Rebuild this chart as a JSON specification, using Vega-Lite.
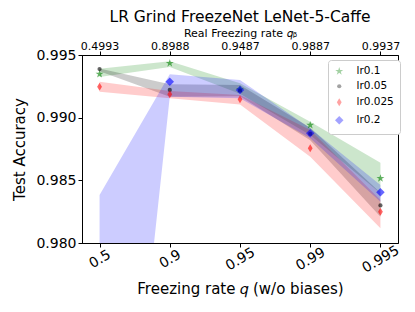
{
  "$schema": "https://vega.github.io/schema/vega-lite/v6.json",
  "width": 316,
  "height": 188,
  "autosize": "none",
  "padding": {"left": 82, "top": 55, "right": 17, "bottom": 69},
  "background": "white",
  "title": {"text": "LR Grind FreezeNet LeNet-5-Caffe", "fontSize": 15.5, "font": "DejaVu Sans", "fontWeight": "normal", "color": "black", "anchor": "middle", "offset": 2},
  "config": {
    "view": {"stroke": "black", "strokeWidth": 1},
    "font": "DejaVu Sans",
    "axis": {"grid": false, "domainColor": "black", "tickColor": "black", "labelColor": "black", "titleColor": "black", "titleFontWeight": "normal", "labelFont": "DejaVu Sans", "titleFont": "DejaVu Sans"}
  },
  "data": {"values": [
    {"x": 0, "series": "lr0.1", "mean": 0.99348, "lo": 0.99325, "hi": 0.99390},
    {"x": 1, "series": "lr0.1", "mean": 0.99434, "lo": 0.99405, "hi": 0.99450},
    {"x": 2, "series": "lr0.1", "mean": 0.99225, "lo": 0.99190, "hi": 0.99274},
    {"x": 3, "series": "lr0.1", "mean": 0.98941, "lo": 0.98862, "hi": 0.98968},
    {"x": 4, "series": "lr0.1", "mean": 0.98516, "lo": 0.98396, "hi": 0.98641},
    {"x": 0, "series": "lr0.05", "mean": 0.99388, "lo": 0.99370, "hi": 0.99392},
    {"x": 1, "series": "lr0.05", "mean": 0.99221, "lo": 0.99167, "hi": 0.99266},
    {"x": 2, "series": "lr0.05", "mean": 0.99215, "lo": 0.99170, "hi": 0.99260},
    {"x": 3, "series": "lr0.05", "mean": 0.98870, "lo": 0.98820, "hi": 0.98920},
    {"x": 4, "series": "lr0.05", "mean": 0.98300, "lo": 0.98210, "hi": 0.98400},
    {"x": 0, "series": "lr0.025", "mean": 0.99247, "lo": 0.99207, "hi": 0.99287},
    {"x": 1, "series": "lr0.025", "mean": 0.99186, "lo": 0.99154, "hi": 0.99213},
    {"x": 2, "series": "lr0.025", "mean": 0.99146, "lo": 0.99106, "hi": 0.99180},
    {"x": 3, "series": "lr0.025", "mean": 0.98755, "lo": 0.98689, "hi": 0.98901},
    {"x": 4, "series": "lr0.025", "mean": 0.98250, "lo": 0.98117, "hi": 0.98343},
    {"x": 0, "series": "lr0.2", "mean": 0.96170, "lo": 0.93960, "hi": 0.98383},
    {"x": 1, "series": "lr0.2", "mean": 0.99287, "lo": 0.99167, "hi": 0.99346},
    {"x": 2, "series": "lr0.2", "mean": 0.99221, "lo": 0.99154, "hi": 0.99300},
    {"x": 3, "series": "lr0.2", "mean": 0.98875, "lo": 0.98835, "hi": 0.98915},
    {"x": 4, "series": "lr0.2", "mean": 0.98404, "lo": 0.98330, "hi": 0.98463}
  ]},
  "resolve": {"axis": {"x": "independent"}},
  "layer": [
    {
      "mark": {"type": "area", "fillOpacity": 0.2, "clip": true},
      "encoding": {
        "x": {
          "field": "x", "type": "quantitative",
          "scale": {"domain": [-0.25, 4.25], "nice": false, "zero": false},
          "axis": {
            "values": [0, 1, 2, 3, 4],
            "labelExpr": "['0.5','0.9','0.95','0.99','0.995'][datum.value]",
            "labelAngle": -30, "labelAlign": "center", "labelBaseline": "middle", "labelPadding": 12,
            "labelFontSize": 14, "tickSize": 4, "title": "Freezing rate 𝑞 (w/o biases)", "titleFontSize": 15, "titlePadding": 6
          }
        },
        "y": {"field": "lo", "type": "quantitative", "scale": {"domain": [0.980, 0.995], "nice": false, "zero": false},
          "axis": {"values": [0.980, 0.985, 0.990, 0.995], "format": ".3f", "labelFontSize": 14, "tickSize": 4, "title": "Test Accuracy", "titleFontSize": 15, "titlePadding": 8}},
        "y2": {"field": "hi"},
        "color": {"field": "series", "type": "nominal", "scale": {"domain": ["lr0.1", "lr0.05", "lr0.025", "lr0.2"], "range": ["#008000", "#000000", "#ff0000", "#0000ff"]}}
      }
    },
    {
      "mark": {"type": "point", "filled": true, "opacity": 0.6, "clip": true, "strokeWidth": 0},
      "encoding": {
        "x": {"field": "x", "type": "quantitative", "axis": null},
        "y": {"field": "mean", "type": "quantitative"},
        "color": {"field": "series", "type": "nominal",
          "legend": {"title": null, "orient": "none", "legendX": 246, "legendY": 5, "labelFontSize": 10.5, "labelColor": "black", "rowPadding": 3, "padding": 6, "strokeColor": "#cccccc", "fillColor": "white", "cornerRadius": 3, "labelOffset": 12, "symbolOpacity": 0.65}},
        "shape": {"field": "series", "type": "nominal", "scale": {"domain": ["lr0.1", "lr0.05", "lr0.025", "lr0.2"], "range": ["M0,-1L0.2245,-0.309L0.951,-0.309L0.363,0.118L0.588,0.809L0,0.382L-0.588,0.809L-0.363,0.118L-0.951,-0.309L-0.2245,-0.309Z", "circle", "M0,-1L0.6,0L0,1L-0.6,0Z", "diamond"]}},
        "size": {"field": "series", "type": "nominal", "scale": {"type": "ordinal", "domain": ["lr0.1", "lr0.05", "lr0.025", "lr0.2"], "range": [70, 18, 64, 72]}, "legend": null}
      }
    },
    {
      "mark": {"type": "point", "opacity": 0},
      "encoding": {
        "x": {
          "field": "x", "type": "quantitative",
          "axis": {
            "orient": "top", "values": [0, 1, 2, 3, 4],
            "labelExpr": "['0.4993','0.8988','0.9487','0.9887','0.9937'][datum.value]",
            "labelFontSize": 11, "labelAngle": 0, "labelAlign": "center", "labelBaseline": "alphabetic", "labelPadding": 2, "tickSize": 4,
            "title": "Real Freezing rate 𝑞ᵦ", "titleFontSize": 11, "titlePadding": 2
          }
        },
        "y": {"field": "mean", "type": "quantitative"}
      }
    }
  ]
}
